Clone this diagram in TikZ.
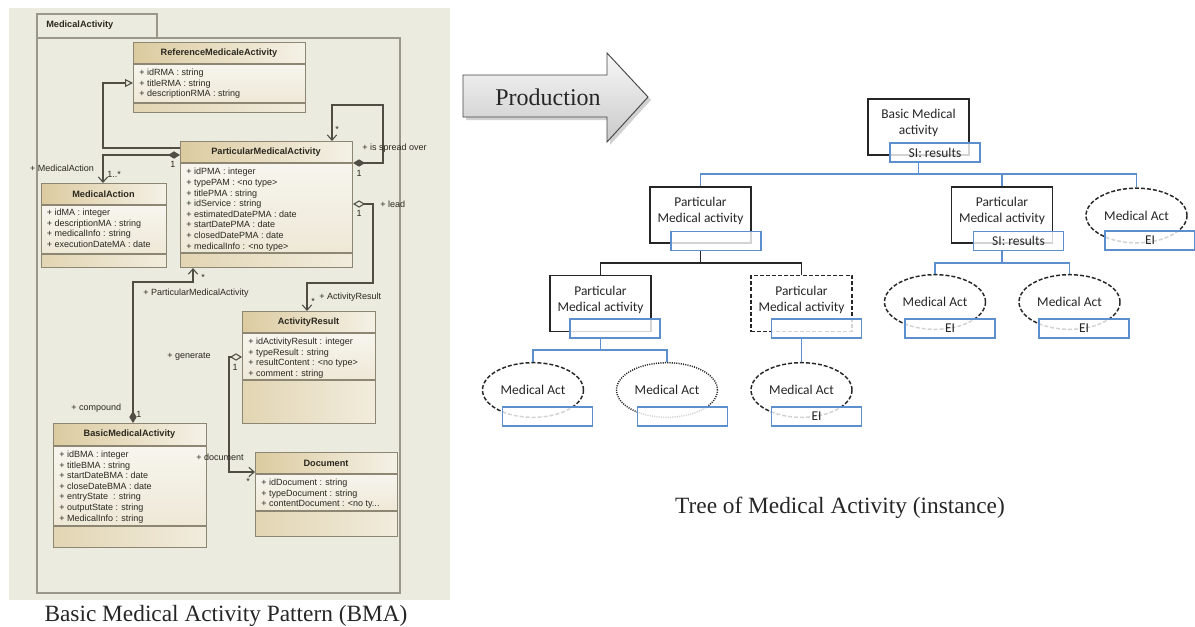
\documentclass[tikz,border=0pt]{standalone}
\usepackage{fontspec}
\setmainfont{Liberation Serif}
\newfontfamily\umlfont{Liberation Sans}
\newfontfamily\treefont{Carlito}
\usetikzlibrary{arrows.meta,shapes.geometric,calc}

\definecolor{panelbg}{HTML}{ECEBE0}
\definecolor{framegray}{HTML}{9A978A}
\definecolor{classedge}{HTML}{8C8672}
\definecolor{tanL}{HTML}{DCCBA0}
\definecolor{tanR}{HTML}{F4F1E6}
\definecolor{attT}{HTML}{F7F5EE}
\definecolor{attB}{HTML}{EEE8D6}
\definecolor{botL}{HTML}{E2D5B3}
\definecolor{botR}{HTML}{F1ECDD}
\definecolor{umlink}{HTML}{2A281F}
\definecolor{umlwire}{HTML}{4F4D44}
\definecolor{treeblue}{HTML}{5D8FCF}
\definecolor{treeink}{HTML}{262626}

\tikzset{
  x=0.75pt, y=-0.75pt,
  classbox/.style={draw=classedge, line width=0.8pt, inner sep=0pt},
  classline/.style={draw=classedge, line width=0.8pt},
  classtitle/.style={font=\umlfont\bfseries\fontsize{6.9pt}{8pt}\selectfont, text=umlink, inner sep=0pt},
  attrs/.style={font=\umlfont\fontsize{6.75pt}{7.95pt}\selectfont, text=umlink, align=left, inner sep=0pt},
  umllabel/.style={font=\umlfont\fontsize{6.75pt}{7.95pt}\selectfont, text=umlink, inner sep=0pt},
  wire/.style={draw=umlwire, line width=0.8pt},
  genline/.style={wire, -{Triangle[open, length=6pt, width=6pt]}},
  compline/.style={wire, {Diamond[length=9pt, width=5.5pt, fill=umlwire]}-{Straight Barb[length=4pt, width=7pt]}},
  aggline/.style={wire, {Diamond[open, length=9pt, width=5.5pt]}-{Straight Barb[length=4pt, width=7pt]}},
  treetext/.style={font=\treefont\fontsize{10.1pt}{12pt}\selectfont, text=treeink, align=center, inner sep=0pt},
  actbox/.style={draw=treeink, line width=1.1pt, minimum width=75.75pt, minimum height=42pt, inner sep=0pt},
  optbox/.style={actbox, dash pattern=on 3pt off 1.6pt},
  actell/.style={ellipse, draw=treeink, line width=1.1pt, dash pattern=on 3pt off 1.5pt,
    minimum width=75.75pt, minimum height=41pt, inner sep=0pt, treetext},
  dotell/.style={actell, dash pattern=on 0.8pt off 0.9pt},
  infobox/.style={draw=treeblue, line width=1.1pt, fill=white, fill opacity=0.8, text opacity=1,
    minimum width=67.5pt, minimum height=14.25pt, inner sep=0pt, treetext},
  blueedge/.style={draw=treeblue, line width=1.1pt},
  blackedge/.style={draw=treeink, line width=1.1pt},
  caption/.style={font=\fontsize{17.5pt}{20pt}\selectfont, text=black!85, inner sep=0pt, anchor=base},
}

% class box: name, x1, y1, x2, y2, title separator, attribute separator, title
\newcommand{\umlclass}[8]{%
  \pgfmathsetlengthmacro{\cw}{(#4-#2)*0.75pt}%
  \pgfmathsetlengthmacro{\ch}{(#5-#3)*0.75pt}%
  \shade[left color=tanL, right color=tanR] (#2,#3) rectangle (#4,#6);
  \shade[top color=attT, bottom color=attB] (#2,#6) rectangle (#4,#7);
  \shade[left color=botL, right color=botR] (#2,#7) rectangle (#4,#5);
  \node[classbox, minimum width=\cw, minimum height=\ch, anchor=north west] (#1) at (#2,#3) {};
  \draw[classline] (#2,#6) -- (#4,#6) (#2,#7) -- (#4,#7);
  \node[classtitle] (#1-title) at ({(#2+#4)/2},{(#3+#6)/2}) {#8};
}

\begin{document}
\begin{tikzpicture}
\useasboundingbox (0,0) rectangle (1195,626);
\fill[white] (0,0) rectangle (1195,626);

% ---------------- class diagram ----------------
\fill[panelbg] (9,8) rectangle (450,600);
\draw[framegray, line width=0.8pt] (37,14) rectangle (157,38);
\draw[framegray, line width=0.8pt] (37,38) rectangle (400,593);
\node[classtitle, anchor=west] (pkg-title) at (46,25) {MedicalActivity};

\umlclass{rma}{133}{42}{305}{112}{64}{103}{ReferenceMedicaleActivity}
\node[attrs, anchor=north west] (rma-attrs) at (139,68.7)
  {+ idRMA : string\\+ titleRMA : string\\+ descriptionRMA : string};

\umlclass{pma}{180}{141}{352}{267}{163}{253}{ParticularMedicalActivity}
\node[attrs, anchor=north west] (pma-attrs) at (186,168.2)
  {+ idPMA : integer\\+ typePAM : <no type>\\+ titlePMA : string\\+ idService : string\\%
   + estimatedDatePMA : date\\+ startDatePMA : date\\+ closedDatePMA : date\\+ medicalInfo : <no type>};

\umlclass{ma}{41}{183}{166}{267}{205}{254}{MedicalAction}
\node[attrs, anchor=north west] (ma-attrs) at (46.5,208.8)
  {+ idMA : integer\\+ descriptionMA : string\\+ medicalInfo : string\\+ executionDateMA : date};

\umlclass{ar}{242}{311}{375}{423}{333}{380}{ActivityResult}
\node[attrs, anchor=north west] (ar-attrs) at (248,337.7)
  {+ idActivityResult : integer\\+ typeResult : string\\+ resultContent : <no type>\\+ comment : string};

\umlclass{bma}{53}{423}{206}{547}{446}{526}{BasicMedicalActivity}
\node[attrs, anchor=north west] (bma-attrs) at (59,450.7)
  {+ idBMA : integer\\+ titleBMA : string\\+ startDateBMA : date\\+ closeDateBMA : date\\%
   + entryState \ : string\\+ outputState : string\\+ MedicalInfo : string};

\umlclass{doc}{255}{452}{397}{536}{474}{511}{Document}
\node[attrs, anchor=north west] (doc-attrs) at (261,478.7)
  {+ idDocument : string\\+ typeDocument : string\\+ contentDocument : <no ty...};

% relations
\draw[genline] (pma.west |- 0,148) -- (103,148) -- (103,83) -- (rma.west |- 0,83);
\draw[compline] (pma.east |- 0,163) -- (383,163) -- (383,105) -- (332,105) -- (pma.north -| 332,0);
\draw[compline] (pma.west |- 0,155) -- (103,155) -- (ma.north -| 103,0);
\draw[compline] (bma.north -| 133,0) -- (133,282) -- (193,282) -- (pma.south -| 193,0);
\draw[aggline] (pma.east |- 0,204) -- (373,204) -- (373,283) -- (307,283) -- (ar.north -| 307,0);
\draw[aggline] (ar.west |- 0,357) -- (229,357) -- (229,472) -- (doc.west |- 0,472);

% role names and multiplicities
\node[umllabel, anchor=west] (l-spread) at (362,148) {+ is spread over};
\node[umllabel] (l-star1) at (337,129) {*};
\node[umllabel] (l-one1) at (359,173) {1};
\node[umllabel] (l-ma) at (62,168) {+ MedicalAction};
\node[umllabel, anchor=west] (l-onestar) at (107,174) {1..*};
\node[umllabel] (l-one2) at (173,164) {1};
\node[umllabel, anchor=west] (l-lead) at (380,204) {+ lead};
\node[umllabel] (l-one3) at (359,213) {1};
\node[umllabel] (l-star2) at (203,277) {*};
\node[umllabel, anchor=west] (l-pma) at (143,293) {+ ParticularMedicalActivity};
\node[umllabel] (l-star3) at (313,301) {*};
\node[umllabel, anchor=west] (l-ar) at (319,297) {+ ActivityResult};
\node[umllabel, anchor=west] (l-gen) at (167,357) {+ generate};
\node[umllabel] (l-one4) at (235,367) {1};
\node[umllabel, anchor=west] (l-comp) at (71,408) {+ compound};
\node[umllabel] (l-one5) at (139,414) {1};
\node[umllabel, anchor=west] (l-doc) at (196,457) {+ document};
\node[umllabel] (l-star4) at (248,481) {*};

\node[caption] (cap-left) at (226,621) {Basic Medical Activity Pattern (BMA)};

% ---------------- production arrow ----------------
\fill[black, opacity=0.18] (466,78) -- (610,78) -- (610,56) -- (651,100) -- (610,145) -- (610,120) -- (466,120) -- cycle;
\shadedraw[top color=gray!6, bottom color=gray!42, draw=gray!55!black, line width=0.7pt]
  (463,75) -- (607,75) -- (607,53) -- (648,97) -- (607,142) -- (607,117) -- (463,117) -- cycle;
\node[font=\fontsize{18pt}{20pt}\selectfont, text=black!85, anchor=base, inner sep=0pt] (prod) at (548,105) {Production};

% ---------------- instance tree ----------------
\node[actbox] (root) at (918.5,127) {};
\node[treetext] (root-t) at (918.5,123) {Basic Medical\\activity};

\node[actbox] (pa) at (700.5,215) {};
\node[treetext] (pa-t) at (700.5,210.5) {Particular\\Medical activity};
\node[actbox] (pb) at (1002,215) {};
\node[treetext] (pb-t) at (1002,210.5) {Particular\\Medical activity};
\node[actell] (m0) at (1136.5,215.5) {Medical Act};

\node[actbox] (paa) at (600.5,303.5) {};
\node[treetext] (paa-t) at (600.5,299.5) {Particular\\Medical activity};
\node[optbox] (pab) at (801.5,303.5) {};
\node[treetext] (pab-t) at (801.5,299.5) {Particular\\Medical activity};
\node[actell] (m4) at (935,302) {Medical Act};
\node[actell] (m5) at (1069.5,302) {Medical Act};

\node[actell] (m1) at (533,390) {Medical Act};
\node[dotell] (m2) at (667,390) {Medical Act};
\node[actell] (m3) at (801.5,390) {Medical Act};

\node[infobox] (rootsi) at (935,152.5) {SI: results};
\node[infobox] (pasi) at (716,241) {};
\node[infobox] (pbsi) at (1018.5,241) {SI: results};
\node[infobox] (m0si) at (1150,240.5) {EI};
\node[infobox] (paasi) at (615,328.5) {};
\node[infobox] (pabsi) at (816.5,328.5) {};
\node[infobox] (m4si) at (950,328.5) {EI};
\node[infobox] (m5si) at (1084,328.5) {EI};
\node[infobox] (m1si) at (547.5,416.5) {};
\node[infobox] (m2si) at (682.5,416.5) {};
\node[infobox] (m3si) at (816.5,416.5) {EI};

\draw[blueedge] (root.south |- rootsi.south) -- (root.south |- 0,174) coordinate (bus1);
\draw[blueedge] (bus1) -| (pa.north);
\draw[blueedge] (bus1) -| (pb.north);
\draw[blueedge] (bus1) -| (m0.north);

\draw[blackedge] (pa.south |- pasi.south) -- (pa.south |- 0,263) coordinate (bus2);
\draw[blackedge] (bus2) -| (paa.north);
\draw[blackedge] (bus2) -| (pab.north);

\draw[blueedge] (paa.south |- paasi.south) -- (paa.south |- 0,350) coordinate (bus3);
\draw[blueedge] (bus3) -| (m1.north);
\draw[blueedge] (bus3) -| (m2.north);
\draw[blueedge] (pab.south |- pabsi.south) -- (m3.north);

\draw[blueedge] (pb.south |- pbsi.south) -- (pb.south |- 0,263) coordinate (bus4);
\draw[blueedge] (bus4) -| (m4.north);
\draw[blueedge] (bus4) -| (m5.north);

\node[caption] (cap-right) at (840,513) {Tree of Medical Activity (instance)};
\end{tikzpicture}
\end{document}
